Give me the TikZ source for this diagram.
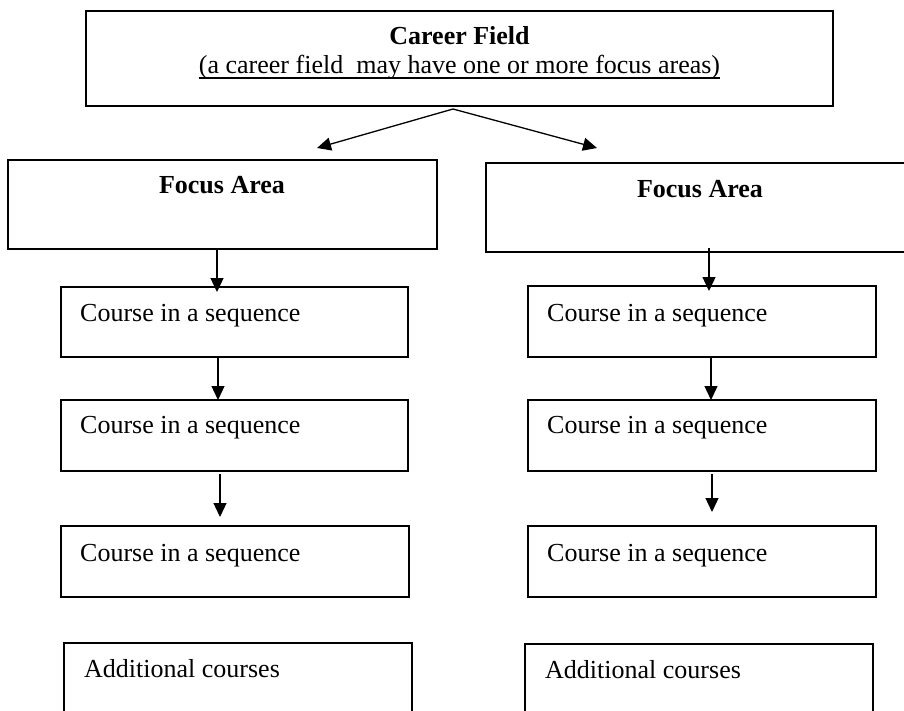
\documentclass[tikz,border=0pt]{standalone}
\usepackage{fontspec}
\setmainfont{Liberation Serif}
\usetikzlibrary{arrows.meta,calc}
\begin{document}
\begin{tikzpicture}[x=1pt,y=-1pt,
  box/.style={draw,line width=1.4pt,rectangle,anchor=north west,inner sep=0pt,outer sep=0pt},
  txt/.style={inner sep=0pt,font=\fontsize{26}{30}\selectfont},
  uline/.style={line width=1.3pt},
  arr/.style={line width=1.3pt,-{Triangle[length=14pt,width=13pt]}}]
\useasboundingbox (0,0) rectangle (904,711);
\clip (0,0) rectangle (904,711);
% boxes
\node[box,minimum width=747pt,minimum height=95pt] (top) at (86,11) {};
\node[box,minimum width=429pt,minimum height=89pt] (fa1) at (8,160) {};
\node[box,minimum width=430pt,minimum height=89pt] (fa2) at (486,163) {};
\node[box,minimum width=347pt,minimum height=70pt] (c1) at (61,287) {};
\node[box,minimum width=347pt,minimum height=71pt] (c2) at (61,400) {};
\node[box,minimum width=348pt,minimum height=71pt] (c3) at (61,526) {};
\node[box,minimum width=348pt,minimum height=120pt] (ad1) at (64,643) {};
\node[box,minimum width=348pt,minimum height=71pt] (r1) at (528,286) {};
\node[box,minimum width=348pt,minimum height=71pt] (r2) at (528,400) {};
\node[box,minimum width=348pt,minimum height=71pt] (r3) at (528,526) {};
\node[box,minimum width=348pt,minimum height=120pt] (ad2) at (525,644) {};
% texts
\node[txt,anchor=base] (toptitle) at (459.5,45) {\bfseries Career Field};
\node[txt,anchor=base] (topsub) at (459.5,74) {(a career field\ \ may have one or more focus areas)};
\draw[uline] ($(topsub.base west)+(0,4)$) -- ($(topsub.base east)+(0,4)$);
\node[txt,anchor=base] (fa1t) at (222,194) {\bfseries Focus Area};
\node[txt,anchor=base] (fa2t) at (700,198) {\bfseries Focus Area};
\node[txt,anchor=base west] (c1t) at (80,321) {Course in a sequence};
\node[txt,anchor=base west] (c2t) at (80,433) {Course in a sequence};
\node[txt,anchor=base west] (c3t) at (80,561) {Course in a sequence};
\node[txt,anchor=base west] (r1t) at (547,321) {Course in a sequence};
\node[txt,anchor=base west] (r2t) at (547,433) {Course in a sequence};
\node[txt,anchor=base west] (r3t) at (547,561) {Course in a sequence};
\node[txt,anchor=base west] (ad1t) at (84,677) {Additional courses};
\node[txt,anchor=base west] (ad2t) at (545,678) {Additional courses};
% connectors
\coordinate (split) at ($(top.south west)+(367,3)$);
\draw[arr] (split) -- ($(fa1.north west)+(309,-12)$);
\draw[arr] (split) -- ($(fa2.north west)+(111,-15)$);
\draw[arr] ($(fa1.south west)+(209,0)$) -- ($(c1.north west)+(156,5)$);
\draw[arr] ($(c1.south west)+(157,0)$) -- ($(c2.north west)+(157,0)$);
\draw[arr] ($(c2.south west)+(159,3)$) -- ($(c3.north west)+(159,-9)$);
\draw[arr] ($(fa2.south west)+(223,-4)$) -- ($(r1.north west)+(181,5)$);
\draw[arr] ($(r1.south west)+(183,0)$) -- ($(r2.north west)+(183,0)$);
\draw[arr] ($(r2.south west)+(184,3)$) -- ($(r3.north west)+(184,-14)$);
\end{tikzpicture}
\end{document}
